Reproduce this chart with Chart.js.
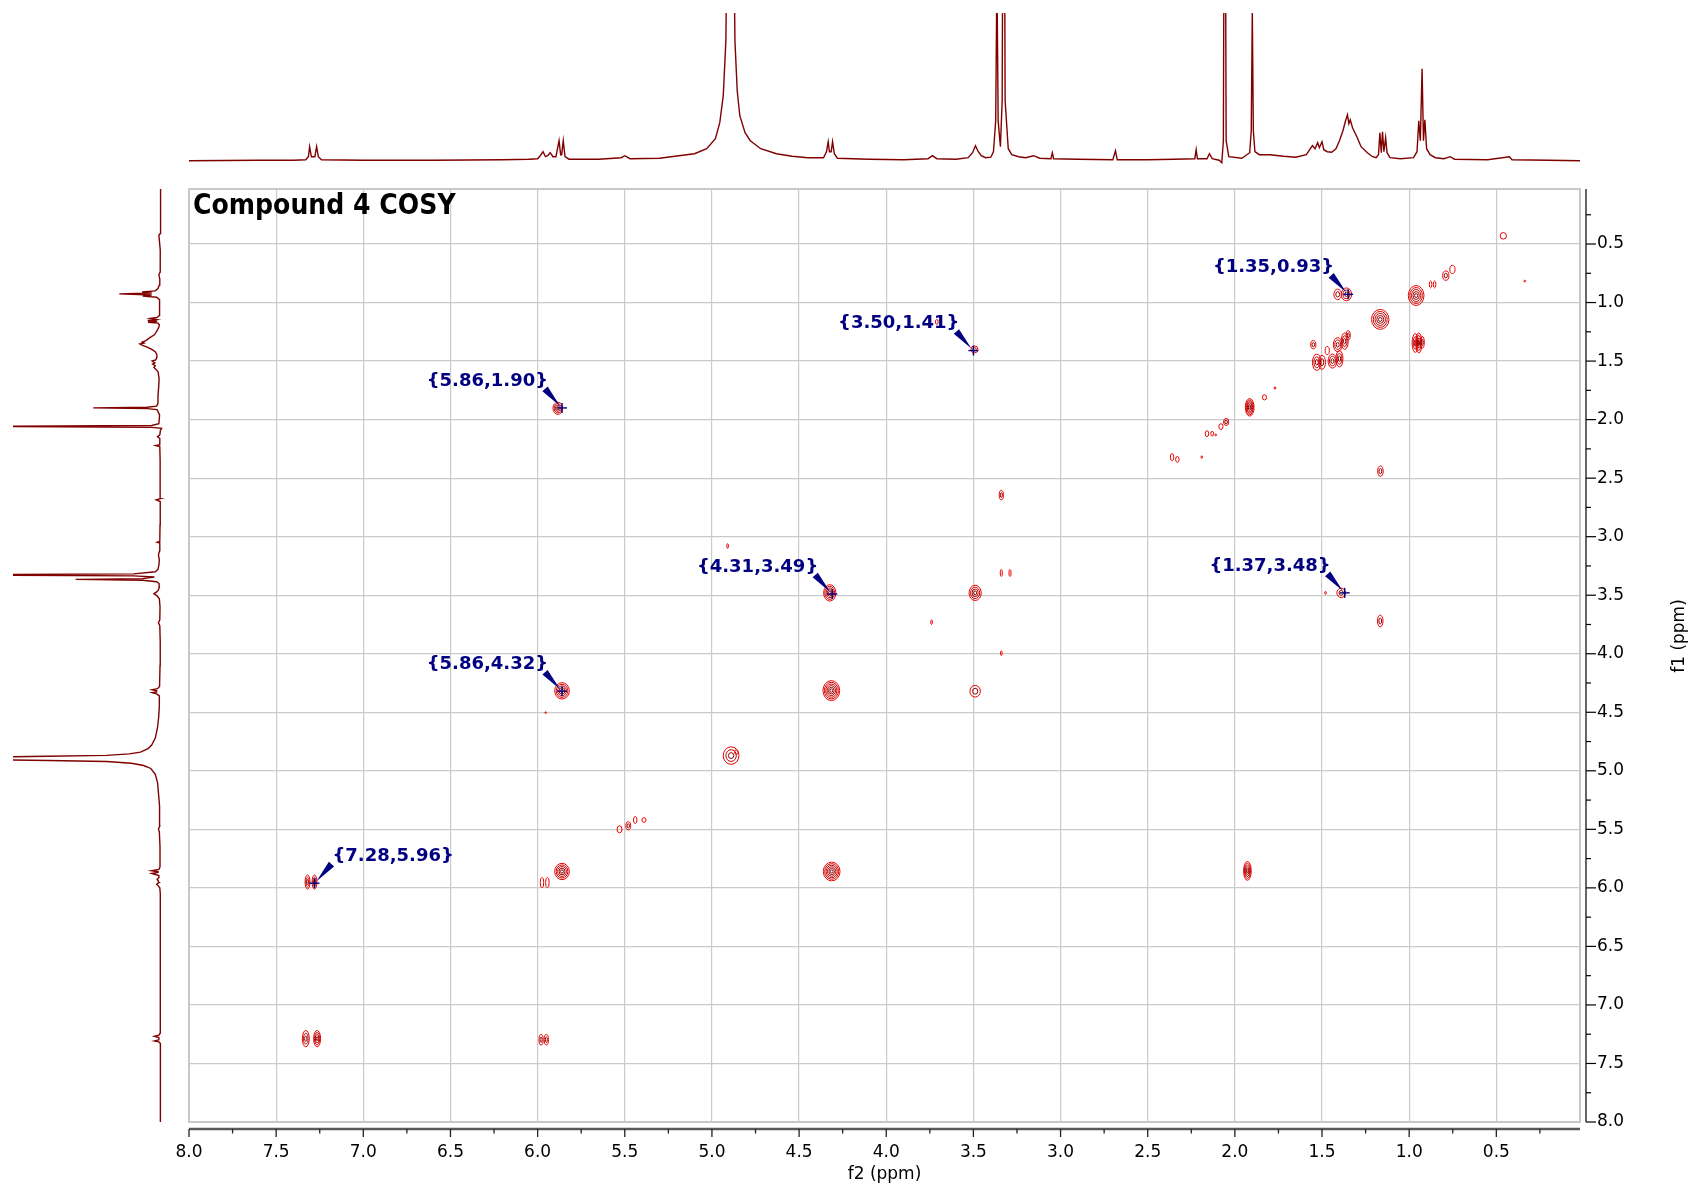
<!DOCTYPE html>
<html>
<head>
<meta charset="utf-8">
<title>Compound 4 COSY</title>
<script src="https://cdn.jsdelivr.net/npm/chart.js@4.4.1/dist/chart.umd.min.js"></script>
<style>
  html, body { margin: 0; padding: 0; background: #fff; }
  #wrap { position: relative; width: 1697px; height: 1190px; }
  #wrap canvas { position: absolute; left: 0; top: 0; }
</style>
</head>
<body>
<div id="wrap">
  <canvas id="cosy" width="1697" height="1190"></canvas>
  <canvas id="topSpec" width="1697" height="1190"></canvas>
  <canvas id="leftSpec" width="1697" height="1190"></canvas>
</div>
<script>
// axis ranges in ppm
const f2Range = [0.02, 8.0];
const f1Range = [0.03, 8.0];

const xMajorTicks = [8.0, 7.5, 7.0, 6.5, 6.0, 5.5, 5.0, 4.5, 4.0, 3.5, 3.0, 2.5, 2.0, 1.5, 1.0, 0.5];
const xMinorTicks = [7.75, 7.25, 6.75, 6.25, 5.75, 5.25, 4.75, 4.25, 3.75, 3.25, 2.75, 2.25, 1.75, 1.25, 0.75, 0.25];
const yMajorTicks = [0.5, 1.0, 1.5, 2.0, 2.5, 3.0, 3.5, 4.0, 4.5, 5.0, 5.5, 6.0, 6.5, 7.0, 7.5, 8.0];
const yMinorTicks = [0.25, 0.75, 1.25, 1.75, 2.25, 2.75, 3.25, 3.75, 4.25, 4.75, 5.25, 5.75, 6.25, 6.75, 7.25, 7.75];

// 1D proton spectrum (projection), ppm and relative intensity
const specPpm = [
  8.00, 7.60, 7.40, 7.33, 7.315, 7.308, 7.298, 7.278, 7.268, 7.258, 7.24, 7.00, 6.60, 6.20, 6.05,
  6.00, 5.985, 5.969, 5.955, 5.942, 5.928, 5.912, 5.895, 5.877, 5.868, 5.862, 5.853, 5.843, 5.82, 5.65, 5.52, 5.50, 5.47, 5.30, 5.19, 5.10,
  5.03, 4.98, 4.955, 4.935, 4.92, 4.912, 4.894, 4.876, 4.868, 4.855, 4.84, 4.81, 4.78, 4.72, 4.63, 4.54,
  4.45, 4.36, 4.343, 4.333, 4.326, 4.316, 4.308, 4.298, 4.28, 4.10, 3.90, 3.76, 3.735, 3.71, 3.60, 3.53, 3.505, 3.488, 3.472, 3.455, 3.43, 3.40,
  3.385, 3.372, 3.365, 3.358, 3.345, 3.335, 3.326, 3.318, 3.30, 3.28, 3.24, 3.20, 3.155, 3.12, 3.055, 3.047, 3.04, 2.90, 2.70, 2.685, 2.675, 2.50,
  2.35, 2.23, 2.222, 2.215, 2.16, 2.146, 2.13, 2.09, 2.075, 2.066, 2.058, 2.05, 2.035, 1.96, 1.915, 1.906, 1.90, 1.894, 1.885, 1.86, 1.80, 1.72,
  1.65, 1.59, 1.555, 1.54, 1.525, 1.515, 1.50, 1.49, 1.47, 1.445, 1.42, 1.40, 1.38, 1.365, 1.354, 1.346, 1.338, 1.325, 1.30, 1.276, 1.24, 1.21, 1.19, 1.176, 1.168, 1.16, 1.153, 1.145, 1.135, 1.127, 1.11, 1.05,
  0.975, 0.955, 0.945, 0.936, 0.926, 0.918, 0.91, 0.90, 0.88, 0.85, 0.80, 0.765, 0.74, 0.55, 0.425, 0.41, 0.20, 0.02
];
const specInt = [
  0, 0.5, 0.5, 1, 4, 14, 4, 4, 14, 4, 1, 0.5, 0.5, 1, 1.5,
  2, 5, 9, 4, 5, 8, 4, 4, 20, 6, 6, 20, 4, 1.5, 1.5, 3, 5, 2, 2.5, 5, 7,
  12, 22, 38, 65, 120, 250, 600, 250, 120, 70, 45, 28, 20, 12, 7, 4.5,
  3, 3, 9, 19, 9, 9, 19, 7, 2.5, 1.5, 1, 2, 5, 2, 1.5, 3, 8, 15, 9, 5, 3, 3.5,
  9, 40, 189, 40, 14, 60, 500, 60, 12, 6, 4, 3, 5, 2.5, 2, 8, 2, 1.5, 1, 10, 1, 1,
  1.5, 2, 11, 2, 2, 7, 2, 0.5, -2, 20, 450, 20, 4, 2.5, 8, 30, 150, 30, 9, 6, 6, 4.5,
  3.5, 6, 15, 12, 18, 13, 19, 11, 9, 8.5, 12, 20, 30, 40, 46, 37, 41, 33, 24, 14, 8, 4, 3, 6, 28, 8, 29, 9, 23, 8, 3, 2,
  3, 9, 40, 20, 92, 20, 41, 12, 6, 3, 2, 4, 1.5, 1, 4, 1, 0.5, 0
];

// COSY contour peaks: centre (f2, f1), half widths in ppm, number of contour levels
const peakF2 = [
  0.46, 0.337, 0.79, 0.752, 0.877, 0.854, 0.96, 1.41, 1.36, 1.166,
  0.965, 0.945, 0.925, 1.53, 1.50, 1.55, 1.44, 1.40, 1.41, 1.37,
  1.35, 1.47, 1.77, 1.83, 1.915, 2.05, 2.08, 2.16, 2.13, 2.11,
  2.36, 2.33, 2.19, 1.165, 3.34, 4.91, 3.34, 3.29, 4.324, 3.49,
  1.39, 1.48, 1.166, 3.74, 3.34, 5.86, 4.315, 3.49, 5.954, 4.89,
  4.86, 5.53, 5.48, 5.44, 5.39, 7.32, 7.28, 5.86, 5.975, 5.944,
  4.313, 1.928, 7.33, 7.265, 5.98, 5.95, 5.884, 3.494, 3.71
];
const peakF1 = [
  0.43, 0.817, 0.77, 0.717, 0.845, 0.845, 0.94, 0.93, 0.93, 1.144,
  1.345, 1.345, 1.34, 1.51, 1.51, 1.36, 1.50, 1.48, 1.36, 1.33,
  1.28, 1.41, 1.73, 1.81, 1.895, 2.02, 2.06, 2.12, 2.12, 2.13,
  2.32, 2.34, 2.32, 2.44, 2.645, 3.08, 3.31, 3.31, 3.48, 3.48,
  3.48, 3.48, 3.72, 3.73, 3.995, 4.317, 4.315, 4.32, 4.503, 4.87,
  4.84, 5.50, 5.47, 5.42, 5.42, 5.95, 5.95, 5.86, 5.955, 5.955,
  5.86, 5.855, 7.288, 7.288, 7.297, 7.297, 1.903, 1.40, 1.165
];
const peakHalfW = [
  0.018, 0.004, 0.018, 0.015, 0.007, 0.007, 0.045, 0.022, 0.03, 0.05,
  0.018, 0.018, 0.012, 0.025, 0.02, 0.015, 0.025, 0.02, 0.025, 0.02,
  0.012, 0.012, 0.003, 0.012, 0.025, 0.015, 0.012, 0.01, 0.008, 0.003,
  0.01, 0.01, 0.003, 0.016, 0.012, 0.004, 0.006, 0.006, 0.035, 0.035,
  0.025, 0.003, 0.016, 0.004, 0.004, 0.042, 0.048, 0.03, 0.003, 0.045,
  0.01, 0.014, 0.014, 0.01, 0.012, 0.014, 0.014, 0.042, 0.01, 0.01,
  0.048, 0.022, 0.02, 0.02, 0.012, 0.012, 0.028, 0.02, 0.008
];
const peakHalfH = [
  0.028, 0.008, 0.04, 0.035, 0.03, 0.03, 0.085, 0.045, 0.055, 0.085,
  0.08, 0.085, 0.05, 0.07, 0.06, 0.035, 0.06, 0.07, 0.06, 0.07,
  0.04, 0.035, 0.01, 0.022, 0.075, 0.03, 0.025, 0.025, 0.02, 0.008,
  0.03, 0.025, 0.01, 0.045, 0.04, 0.02, 0.03, 0.03, 0.07, 0.065,
  0.04, 0.012, 0.05, 0.02, 0.02, 0.07, 0.085, 0.05, 0.005, 0.075,
  0.02, 0.03, 0.035, 0.03, 0.02, 0.06, 0.06, 0.07, 0.045, 0.045,
  0.08, 0.08, 0.07, 0.07, 0.045, 0.045, 0.052, 0.03, 0.02
];
const peakLevels = [
  1, 1, 2, 1, 1, 1, 5, 2, 3, 5,
  3, 4, 2, 3, 2, 2, 3, 3, 3, 3,
  2, 1, 1, 1, 6, 2, 1, 1, 1, 1,
  1, 1, 1, 2, 2, 1, 1, 1, 5, 4,
  2, 1, 2, 1, 1, 5, 6, 2, 1, 3,
  1, 1, 2, 1, 1, 3, 3, 5, 1, 1,
  6, 5, 3, 4, 2, 2, 4, 2, 1
];

// picked cross peaks
const annotF2 = [1.35, 3.50, 5.86, 4.31, 1.37, 5.86, 7.28];
const annotF1 = [0.93, 1.41, 1.90, 3.49, 3.48, 4.32, 5.96];
const annotSide = ['left', 'left', 'left', 'left', 'left', 'left', 'right'];

const FONT = '"DejaVu Sans", Verdana, sans-serif';
Chart.defaults.font.family = FONT;
Chart.defaults.color = '#000';

function seg(ctx, x1, y1, x2, y2) {
  ctx.beginPath();
  ctx.moveTo(x1, y1);
  ctx.lineTo(x2, y2);
  ctx.stroke();
}

// contour rings around every cross peak
const contours = {
  id: 'contours',
  afterDatasetsDraw(chart) {
    const { ctx, chartArea: a, scales: { x, y } } = chart;
    const meta = chart.getDatasetMeta(0);
    ctx.save();
    ctx.beginPath();
    ctx.rect(a.left, a.top, a.right - a.left, a.bottom - a.top);
    ctx.clip();
    ctx.lineWidth = 1;
    meta.data.forEach((pt, i) => {
      const rx = Math.abs(x.getPixelForValue(peakF2[i] + peakHalfW[i]) - pt.x);
      const ry = Math.abs(y.getPixelForValue(peakF1[i] + peakHalfH[i]) - pt.y);
      const n = peakLevels[i];
      for (let k = n; k >= 1; k--) {
        const t = n > 1 ? (n - k) / (n - 1) : 0;
        ctx.strokeStyle = 'rgb(' + Math.round(235 - 95 * t) + ',0,0)';
        ctx.beginPath();
        ctx.ellipse(pt.x, pt.y, Math.max(rx * k / n, 0.8), Math.max(ry * k / n, 0.8), 0, 0, Math.PI * 2);
        ctx.stroke();
      }
    });
    ctx.restore();
  }
};

// frame, offset axes with minor ticks, axis titles, plot title
const frameAxes = {
  id: 'frameAxes',
  afterDraw(chart) {
    const { ctx, chartArea: a, scales: { x, y } } = chart;
    ctx.save();
    ctx.strokeStyle = '#c8c8c8';
    ctx.lineWidth = 2;
    ctx.strokeRect(a.left, a.top, a.right - a.left, a.bottom - a.top);

    // f2 axis below the frame
    const ax = a.bottom + 7;
    ctx.strokeStyle = '#5a5a5a';
    ctx.lineWidth = 2.5;
    seg(ctx, a.left, ax, a.right, ax);
    ctx.strokeStyle = '#222';
    ctx.lineWidth = 1.3;
    xMajorTicks.forEach(v => { const px = x.getPixelForValue(v); seg(ctx, px, ax, px, ax + 8); });
    xMinorTicks.forEach(v => { const px = x.getPixelForValue(v); seg(ctx, px, ax, px, ax + 4.5); });

    // f1 axis right of the frame
    const ay = a.right + 6;
    ctx.strokeStyle = '#000';
    ctx.lineWidth = 1.2;
    seg(ctx, ay, a.top, ay, a.bottom);
    yMajorTicks.forEach(v => { const py = y.getPixelForValue(v); seg(ctx, ay, py, ay + 10, py); });
    yMinorTicks.forEach(v => { const py = y.getPixelForValue(v); seg(ctx, ay, py, ay + 5, py); });

    ctx.fillStyle = '#000';
    ctx.font = '17px ' + FONT;
    ctx.textAlign = 'center';
    ctx.textBaseline = 'middle';
    ctx.fillText('f2 (ppm)', (a.left + a.right) / 2, 1175);
    ctx.save();
    ctx.translate(1680, 636);
    ctx.rotate(-Math.PI / 2);
    ctx.fillText('f1 (ppm)', 0, 0);
    ctx.restore();

    ctx.font = 'bold 28px "DejaVu Sans Condensed", "DejaVu Sans", sans-serif';
    if ('fontStretch' in ctx) ctx.fontStretch = 'condensed';
    ctx.textAlign = 'left';
    ctx.fillText('Compound 4 COSY', a.left + 4, a.top + 18);
    ctx.restore();
  }
};

// peak-pick labels with wedge pointer and cross
const peakLabels = {
  id: 'peakLabels',
  afterDraw(chart) {
    const { ctx } = chart;
    const meta = chart.getDatasetMeta(1);
    ctx.save();
    ctx.fillStyle = '#000080';
    ctx.strokeStyle = '#000080';
    meta.data.forEach((pt, i) => {
      const s = annotSide[i] === 'right' ? 1 : -1;
      const bx = pt.x + s * 17, by = pt.y - 19;
      const tx = pt.x + s * 2, ty = pt.y - 2;
      const len = Math.hypot(tx - bx, ty - by);
      const nx = -(ty - by) / len * 3.5, ny = (tx - bx) / len * 3.5;
      ctx.beginPath();
      ctx.moveTo(bx + nx, by + ny);
      ctx.lineTo(bx - nx, by - ny);
      ctx.lineTo(tx, ty);
      ctx.closePath();
      ctx.fill();
      ctx.lineWidth = 1.4;
      seg(ctx, pt.x - 5, pt.y, pt.x + 5, pt.y);
      seg(ctx, pt.x, pt.y - 5, pt.x, pt.y + 5);
      ctx.font = 'bold 18px ' + FONT;
      ctx.textAlign = s > 0 ? 'left' : 'right';
      ctx.textBaseline = 'middle';
      const text = '{' + annotF2[i].toFixed(2) + ',' + annotF1[i].toFixed(2) + '}';
      ctx.fillText(text, pt.x + s * (s > 0 ? 18 : 14), pt.y - 27);
    });
    ctx.restore();
  }
};

new Chart(document.getElementById('cosy'), {
  type: 'scatter',
  data: {
    datasets: [
      { label: 'cross peaks', data: peakF2.map((v, i) => ({ x: v, y: peakF1[i] })), pointRadius: 0, pointHoverRadius: 0 },
      { label: 'picked', data: annotF2.map((v, i) => ({ x: v, y: annotF1[i] })), pointRadius: 0, pointHoverRadius: 0 }
    ]
  },
  options: {
    responsive: false,
    devicePixelRatio: 1,
    animation: false,
    events: [],
    layout: { padding: { left: 189, top: 189, right: 0, bottom: 0 } },
    plugins: { legend: { display: false }, tooltip: { enabled: false } },
    scales: {
      x: {
        type: 'linear', position: 'bottom', reverse: true,
        min: f2Range[0], max: f2Range[1],
        afterBuildTicks: s => { s.ticks = xMajorTicks.map(v => ({ value: v })); },
        afterFit: s => { s.height = 68; },
        grid: { color: '#cacaca', lineWidth: 1.2, drawTicks: false },
        border: { display: false },
        ticks: { autoSkip: false, maxRotation: 0, padding: 20, font: { size: 17 }, color: '#000', callback: v => v.toFixed(1) }
      },
      y: {
        type: 'linear', position: 'right', reverse: true,
        min: f1Range[0], max: f1Range[1],
        afterBuildTicks: s => { s.ticks = yMajorTicks.map(v => ({ value: v })); },
        afterFit: s => { s.width = 117; },
        grid: { color: '#cacaca', lineWidth: 1.2, drawTicks: false },
        border: { display: false },
        ticks: { autoSkip: false, padding: 17, font: { size: 17 }, color: '#000', callback: v => v.toFixed(1) }
      }
    }
  },
  plugins: [contours, frameAxes, peakLabels]
});

// projection along f2 (top)
new Chart(document.getElementById('topSpec'), {
  type: 'scatter',
  data: {
    datasets: [{
      data: specPpm.map((p, i) => ({ x: p, y: specInt[i] })),
      showLine: true, pointRadius: 0, borderColor: '#800000', borderWidth: 1.4, tension: 0
    }]
  },
  options: {
    responsive: false, devicePixelRatio: 1, animation: false, events: [],
    layout: { padding: { left: 189, right: 117, top: 13, bottom: 1015 } },
    plugins: { legend: { display: false }, tooltip: { enabled: false } },
    scales: {
      x: { type: 'linear', display: false, reverse: true, min: f2Range[0], max: f2Range[1] },
      y: { type: 'linear', display: false, min: -14.3, max: 147.7 }
    }
  }
});

// projection along f1 (left), same spectrum at a lower gain
new Chart(document.getElementById('leftSpec'), {
  type: 'scatter',
  data: {
    datasets: [{
      data: specPpm.map((p, i) => ({ x: specInt[i], y: p })),
      showLine: true, pointRadius: 0, borderColor: '#800000', borderWidth: 1.4, tension: 0
    }]
  },
  options: {
    responsive: false, devicePixelRatio: 1, animation: false, events: [],
    layout: { padding: { left: 13, right: 1522, top: 189, bottom: 68 } },
    plugins: { legend: { display: false }, tooltip: { enabled: false } },
    scales: {
      x: { type: 'linear', display: false, reverse: true, min: -31.8, max: 328.2 },
      y: { type: 'linear', display: false, reverse: true, min: f1Range[0], max: f1Range[1] }
    }
  }
});
</script>
</body>
</html>
